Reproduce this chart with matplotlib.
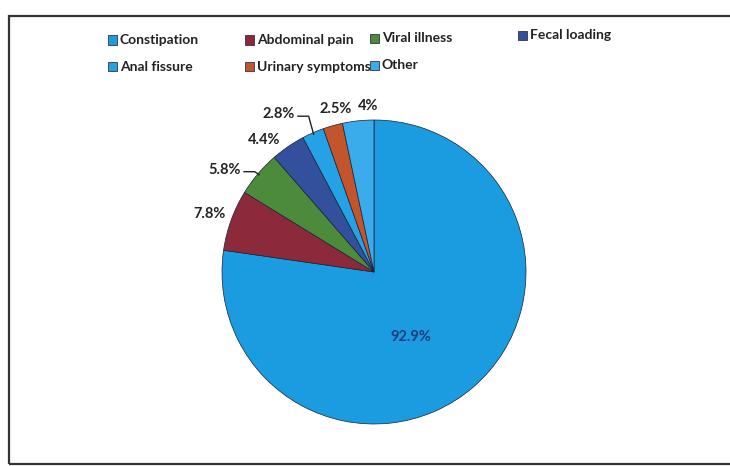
import numpy as np
import matplotlib
matplotlib.use("Agg")
import matplotlib.pyplot as plt
from matplotlib.patches import Rectangle

categories = ["Constipation", "Abdominal pain", "Viral illness", "Fecal loading",
              "Anal fissure", "Urinary symptoms", "Other"]
values = [92.9, 7.8, 5.8, 4.4, 2.8, 2.5, 4]
labels = ["92.9%", "7.8%", "5.8%", "4.4%", "2.8%", "2.5%", "4%"]
colors = ["#1b9be0", "#8c2a3c", "#4d8b3c", "#33509c", "#25a2e6", "#c2552c", "#3aaceb"]

plt.rcParams['font.family'] = ['Lato', 'DejaVu Sans']

fig = plt.figure(figsize=(7.30, 4.66), dpi=100)
W, H = 730, 466

# outer frame (scan border)
fig.add_artist(Rectangle((9 / W, 1 - 464 / H), (760 - 9) / W, (464 - 16) / H,
                         transform=fig.transFigure, fill=False, lw=1.6,
                         edgecolor="#333333"))

cx, cy, r = 374, 272, 152
ax = fig.add_axes([(cx - r) / W, (H - cy - r) / H, 2 * r / W, 2 * r / H])
wedges, _ = ax.pie(values, colors=colors, startangle=90, counterclock=False,
                   radius=1.0, wedgeprops=dict(edgecolor="#1a2035", linewidth=0.5))
ax.set_xlim(-1, 1)
ax.set_ylim(-1, 1)
ax.set_aspect('auto')
ax.axis('off')

# label placements (relative offsets for each slice)
label_pos = {
    0: (0.24, -0.43),
    1: (-1.08, 0.38),
    2: (-0.98, 0.67),
    3: (-0.72, 0.87),
    4: (-0.63, 1.04),
    5: (-0.25, 1.07),
    6: (-0.04, 1.09),
}
for i, w in enumerate(wedges):
    x, y = label_pos[i]
    col = "#1d3f7a" if i == 0 else "#222222"
    ax.text(x, y, labels[i], ha='center', va='center', fontsize=10.5,
            fontweight='bold', color=col, clip_on=False)

# leader lines
for i, (tx, ty) in [(2, (-0.855, 0.66)), (4, (-0.50, 1.025))]:
    w = wedges[i]
    th = np.deg2rad((w.theta1 + w.theta2) / 2)
    ex, ey = np.cos(th) * 0.99, np.sin(th) * 0.99
    mx = tx + 0.07
    ax.plot([tx, mx, ex], [ty, ty, ey], color="#222222", lw=1.0, clip_on=False)

# manual legend
leg_pos = [(108, 40), (245, 40), (370, 38), (518, 35),
           (108, 67), (245, 67), (370, 65)]
for (px, py), name, c in zip(leg_pos, categories, colors):
    s = 9
    fig.add_artist(Rectangle((px / W, 1 - (py + s / 2) / H), s / W, s / H,
                             transform=fig.transFigure, facecolor=c,
                             edgecolor="#333344", lw=0.6))
    fig.text((px + s + 3) / W, 1 - py / H, name, ha='left', va='center',
             fontsize=10, fontweight='bold', color="#222222")

fig.savefig("out.png", dpi=100, facecolor="white")
